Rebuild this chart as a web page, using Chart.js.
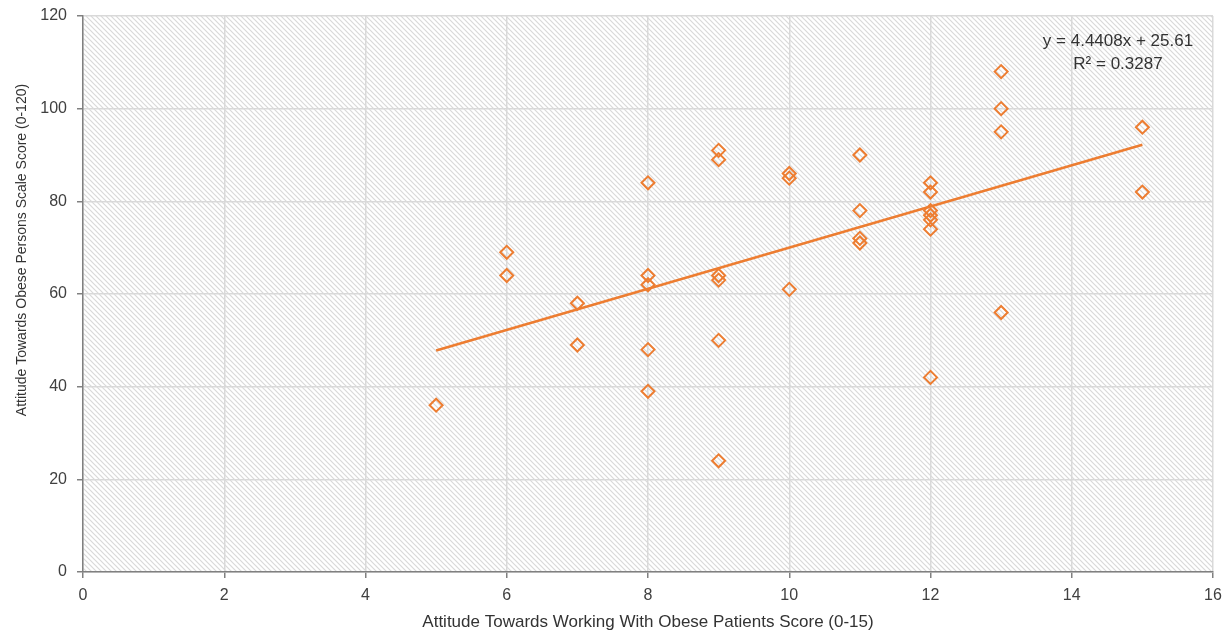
<!DOCTYPE html>
<html>
<head>
<meta charset="utf-8">
<script src="https://cdn.jsdelivr.net/npm/chart.js@4.4.0/dist/chart.umd.min.js"></script>
<style>
  html, body { margin: 0; padding: 0; background: #fff; }
  #wrap { width: 1231px; height: 637px; }
</style>
</head>
<body>
<div id="wrap"><canvas id="myChart" width="1231" height="637"></canvas></div>
<script>
// scores
const xScores = [5, 6, 6, 7, 7, 8, 8, 8, 8, 8, 9, 9, 9, 9, 9, 9, 10, 10, 10,
  11, 11, 11, 11, 12, 12, 12, 12, 12, 12, 12, 13, 13, 13, 13, 15, 15];
const yScores = [36, 69, 64, 58, 49, 84, 64, 62, 48, 39, 91, 89, 64, 63, 50, 24, 86, 85, 61,
  90, 78, 72, 71, 84, 82, 78, 77, 76, 74, 42, 108, 100, 95, 56, 96, 82];
const trendX = [5, 15];
const slope = 4.4408;
const intercept = 25.61;
const eqLabel = "y = 4.4408x + 25.61";
const r2Label = "R² = 0.3287";
const xTitle = "Attitude Towards Working With Obese Patients Score (0-15)";
const yTitle = "Attitude Towards Obese Persons Scale Score (0-120)";

const orange = "#ED7D31";
const FONT = "'Liberation Sans', Arial, sans-serif";

const points = xScores.map((x, i) => ({ x: x, y: yScores[i] }));
const trend = trendX.map(x => ({ x: x, y: slope * x + intercept }));

// hatched plot background
function makeHatch() {
  const c = document.createElement("canvas");
  c.width = 5; c.height = 5;
  const g = c.getContext("2d");
  g.fillStyle = "#ffffff";
  g.fillRect(0, 0, 5, 5);
  g.strokeStyle = "#d9d9d9";
  g.lineWidth = 1.2;
  g.beginPath();
  g.moveTo(-1, -1); g.lineTo(6, 6);
  g.moveTo(-1, 4); g.lineTo(1, 6);
  g.moveTo(4, -1); g.lineTo(6, 1);
  g.stroke();
  return g.createPattern(c, "repeat");
}

const hatchBg = {
  id: "hatchBg",
  beforeDraw(chart) {
    const a = chart.chartArea;
    const ctx = chart.ctx;
    ctx.save();
    ctx.fillStyle = makeHatch();
    ctx.fillRect(a.left, a.top, a.right - a.left, a.bottom - a.top);
    ctx.restore();
  },
  afterDraw(chart) {
    const ctx = chart.ctx;
    ctx.save();
    ctx.fillStyle = "#333";
    ctx.font = "17px " + FONT;
    ctx.textAlign = "center";
    ctx.textBaseline = "middle";
    ctx.fillText(eqLabel, 1118, 41);
    ctx.fillText(r2Label, 1118, 64);
    // y axis title, sits a bit above the middle like the original
    ctx.font = "14px " + FONT;
    ctx.translate(22, 250);
    ctx.rotate(-Math.PI / 2);
    ctx.fillText(yTitle, 0, 0);
    ctx.restore();
  }
};

const ctx = document.getElementById("myChart").getContext("2d");
new Chart(ctx, {
  type: "scatter",
  data: {
    datasets: [
      {
        label: "Scores",
        data: points,
        pointStyle: "rectRot",
        pointRadius: 6.5,
        pointHoverRadius: 6.5,
        pointBorderWidth: 2,
        pointBorderColor: orange,
        pointBackgroundColor: "rgba(0,0,0,0)",
        order: 1
      },
      {
        label: "Trend",
        type: "line",
        data: trend,
        borderColor: orange,
        borderWidth: 2.5,
        pointRadius: 0,
        fill: false,
        order: 2
      }
    ]
  },
  options: {
    responsive: false,
    animation: false,
    layout: { padding: { top: 16, right: 18, left: 0, bottom: 0 } },
    plugins: {
      legend: { display: false },
      tooltip: { enabled: false }
    },
    scales: {
      x: {
        type: "linear",
        min: 0, max: 16,
        ticks: { stepSize: 2, color: "#404040", font: { size: 16, family: FONT }, padding: 8 },
        grid: { color: "#d9d9d9", lineWidth: 1.5, tickLength: 6, tickColor: "#808080" },
        border: { color: "#808080", width: 1.5 },
        title: { display: true, text: xTitle,
          color: "#333", font: { size: 17, family: FONT }, padding: { top: 4 } },
        afterFit(s) { s.height = 65; }
      },
      y: {
        min: 0, max: 120,
        ticks: { stepSize: 20, color: "#404040", font: { size: 16, family: FONT }, padding: 10 },
        grid: { color: "#d9d9d9", lineWidth: 1.5, tickLength: 6, tickColor: "#808080" },
        border: { color: "#808080", width: 1.5 },
        afterFit(s) {
          s.width = 83;
          s.paddingTop = 0;
          s.paddingBottom = 0;
        }
      }
    }
  },
  plugins: [hatchBg]
});
</script>
</body>
</html>
